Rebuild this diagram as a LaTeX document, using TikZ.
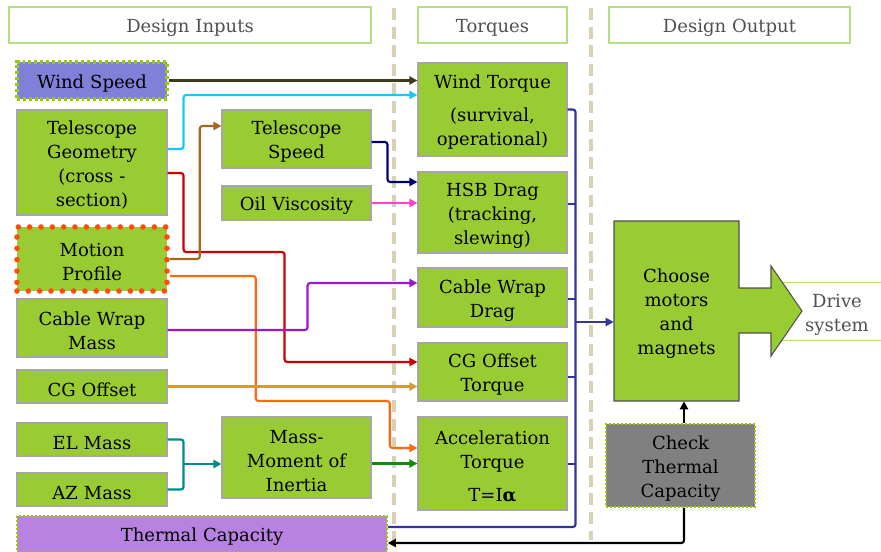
\documentclass[tikz,border=0pt]{standalone}
\usepackage{fontspec}
\setmainfont{DejaVu Serif}
\usetikzlibrary{arrows.meta,calc}
\definecolor{leaf}{HTML}{99CC33}
\definecolor{edge}{HTML}{A6A6A6}
\definecolor{lime}{HTML}{99CC00}
\definecolor{pale}{HTML}{B8DD80}
\definecolor{sand}{HTML}{D9D1B5}
\definecolor{windblue}{HTML}{8080D8}
\definecolor{lilac}{HTML}{B883E0}
\definecolor{slate}{HTML}{808080}
\definecolor{ember}{HTML}{FF4A10}
\definecolor{ink}{HTML}{505050}
\definecolor{soot}{HTML}{3F3A17}
\definecolor{sky}{HTML}{1AC6FF}
\definecolor{crimson}{HTML}{CC0000}
\definecolor{umber}{HTML}{A5671B}
\definecolor{tangerine}{HTML}{FF6A10}
\definecolor{navyc}{HTML}{000070}
\definecolor{rose}{HTML}{FF40C8}
\definecolor{violet}{HTML}{9A1AD0}
\definecolor{ochre}{HTML}{D4A017}
\definecolor{tealc}{HTML}{008B8B}
\definecolor{grass}{HTML}{108A10}
\definecolor{indigo}{HTML}{3333A0}
\newcommand\boxfont{\fontsize{13.5}{18}\selectfont}
\tikzset{
  wh/.style 2 args={minimum width=#1*0.75pt, minimum height=#2*0.75pt, text width=#1*0.75pt-10pt},
  txt/.style={align=center, font=\boxfont, inner sep=2pt, execute at begin node={\rule{0pt}{14.5pt}}},
  box/.style={txt, draw=edge, fill=leaf, line width=0.8pt},
  dotbox/.style={box, draw=lime, line width=1.2pt, dash pattern=on 1.5pt off 1.5pt},
  hdr/.style={txt, draw=pale, fill=white, text=ink, line width=0.8pt},
  lane/.style={sand, line width=3pt, dash pattern=on 9pt off 5pt},
  wire/.style={line width=1.6pt, rounded corners=2pt},
  flow/.style={wire, -{Triangle[length=6pt,width=6pt]}},
}

\begin{document}
\begin{tikzpicture}[x=0.75pt, y=-0.75pt]
    \useasboundingbox (0,0) rectangle (881,552);
    % lane separators
    \draw[lane] (394,8) -- (394,540);
    \draw[lane] (591,8) -- (591,540);

    % column headers
    \node[hdr, wh={362}{36}] (hin) at (190,25) {Design Inputs};
    \node[hdr, wh={149}{36}] (htq) at (492.5,25) {Torques};
    \node[hdr, wh={241}{36}] (hout) at (729.5,25) {Design Output};

    % design inputs
    \node[box, wh={150}{37}, fill=windblue, draw=lime, line width=2.4pt, dash pattern=on 2.2pt off 2.2pt] (wind) at (92,80.5) {Wind Speed};
    \node[box, wh={150}{105}] (geom) at (92,162.5) {Telescope\\Geometry\\(cross -\\section)};
    \node[box, wh={150}{64}, draw=ember, line width=4.2pt, line cap=round, dash pattern=on 0pt off 8.5pt] (motion) at (92,259) {Motion\\Profile};
    \node[box, wh={150}{58}] (cwmass) at (92,328) {Cable Wrap\\Mass};
    \node[box, wh={150}{33}] (cgoff) at (92,386.5) {CG Offset};
    \node[box, wh={150}{33}] (elmass) at (92,439.5) {EL Mass};
    \node[box, wh={150}{33}] (azmass) at (92,489.5) {AZ Mass};
    \node[box, wh={149}{58}] (tspeed) at (296.5,139) {Telescope\\Speed};
    \node[box, wh={149}{34}] (oil) at (296.5,203) {Oil Viscosity};
    \node[box, wh={149}{81}] (inertia) at (296.5,457.5) {Mass-\\Moment of\\Inertia};
    \node[dotbox, wh={370}{36}, fill=lilac] (thermal) at (202,534) {Thermal Capacity};

    % torques
    \node[box, wh={149}{93}] (windtq) at (492.5,109.5) {Wind Torque\\[7pt](survival,\\operational)};
    \node[box, wh={149}{81}] (hsb) at (492.5,212.5) {HSB Drag\\(tracking,\\slewing)};
    \node[box, wh={149}{59}] (cwdrag) at (492.5,297.5) {Cable Wrap\\Drag};
    \node[box, wh={149}{58}] (cgtq) at (492.5,372) {CG Offset\\Torque};
    \node[box, wh={149}{93}] (acctq) at (492.5,463.5) {Acceleration\\Torque\\[7pt]T=I\textbf{α}};

    % design output
    \node[txt, wh={114}{57}, text=ink] (drive) at (837,311.5) {Drive\\system};
    \draw[pale, line width=0.8pt] (drive.north west) -- ++(101,0) (drive.south west) -- ++(101,0);
    \draw[draw=ink, fill=leaf, line width=0.8pt] (614,221) -- (739,221) -- (739,288) -- (771,288) -- (771,266)
      -- (802,311) -- (771,356) -- (771,333) -- (739,333) -- (739,401) -- (614,401) -- cycle;
    \node[txt, wh={125}{180}] (choose) at (676.5,311) {Choose\\motors\\and\\magnets};
    \node[dotbox, wh={149}{83}, fill=slate] (check) at (680.5,465.5) {Check\\Thermal\\Capacity};

    % inputs to torques
    \draw[flow, soot] (wind.east) -- (wind.east -| windtq.west);
    \draw[flow, sky] ($(geom.east)+(0,-13.5)$) -- ++(16,0) |- ($(windtq.west)+(0,-14.5)$);
    \draw[flow, crimson] ($(geom.east)+(0,10.5)$) -- ++(16,0) -- ++(0,79) -- ++(101,0) |- ($(cgtq.west)+(0,-10)$);
    \draw[flow, umber] (motion.east) -- ++(30,0) |- ($(tspeed.west)+(0,-13)$);
    \draw[flow, tangerine] ($(motion.east)+(0,17)$) -- ++(86,0) -- ++(0,125) -- ++(134,0) |- ($(acctq.west)+(0,-15.5)$);
    \draw[flow, navyc] ($(tspeed.east)+(0,3)$) -- ++(16,0) |- ($(hsb.west)+(0,-30.5)$);
    \draw[flow, rose] (oil.east) -- (oil.east -| hsb.west);
    \draw[flow, violet] ($(cwmass.east)+(0,2)$) -- ++(140,0) |- ($(cwdrag.west)+(0,-14.5)$);
    \draw[flow, ochre] (cgoff.east) -- (cgoff.east -| cgtq.west);
    \coordinate (massjoin) at ($(elmass.east)+(16,24.5)$);
    \draw[wire, tealc] (elmass.east) -| (massjoin) |- (azmass.east);
    \draw[flow, tealc] (massjoin) -- (massjoin -| inertia.west);
    \draw[flow, grass] (acctq.west -| inertia.east) -- (acctq.west);

    % torque bus
    \coordinate (busend) at ($(windtq.east)+(8,417.5)$);
    \draw[wire, indigo] (windtq.east) -| (busend) -- (busend -| thermal.east);
    \foreach \n/\dy in {hsb/-8.5, cwdrag/1.5, cgtq/5, acctq/0.5}
      \draw[wire, indigo] ($(\n.east)+(0,\dy)$) -- ++(8,0);
    \coordinate (chooseport) at ($(choose.west)+(0,11)$);
    \draw[flow, indigo] (chooseport -| busend) -- (chooseport);

    % thermal check loop
    \coordinate (checktop) at ($(check.north)+(3.5,0)$);
    \coordinate (checkbot) at ($(check.south)+(3.5,0)$);
    \draw[flow, black] (checktop) -- (checktop |- choose.south);
    \coordinate (thermalport) at ($(thermal.east)+(0,9)$);
    \draw[flow, black] (checkbot) |- (thermalport);
  \end{tikzpicture}
\end{document}
